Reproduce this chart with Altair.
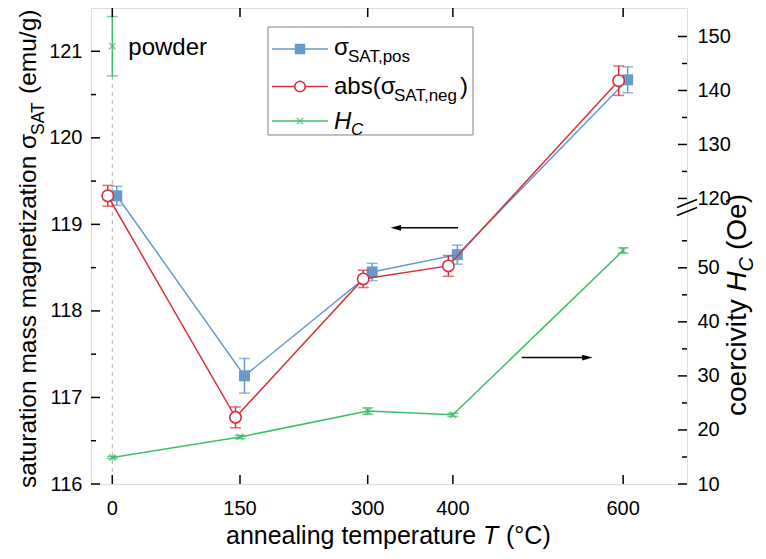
import altair as alt
import pandas as pd

# ---------------- data ----------------
T = [0, 150, 300, 400, 600]
sig_pos = [119.33, 117.25, 118.45, 118.65, 120.67]
sig_pos_err = [0.11, 0.20, 0.10, 0.11, 0.15]
sig_neg = [119.33, 116.77, 118.37, 118.52, 120.66]
sig_neg_err = [0.12, 0.12, 0.10, 0.12, 0.17]
hc = [14.9, 18.7, 23.5, 22.8, 53.2]
hc_err = [0.2, 0.3, 0.6, 0.3, 0.5]
powder_T = [0]
powder_hc = [148.2]
powder_err = [5.5]

x_ticks = [0, 150, 300, 400, 600]
left_major = [116, 117, 118, 119, 120, 121]
left_minor = [116.5, 117.5, 118.5, 119.5, 120.5]
right_major = [10, 20, 30, 40, 50, 120, 130, 140, 150]
right_minor = [15, 25, 35, 45, 55, 125, 135, 145]

BLUE = "#6699CC"
RED = "#D7303A"
GREEN = "#3DBE6B"
FONT = "Liberation Sans"

W, H = 596, 476

xs = alt.Scale(domain=[-25, 675], nice=False, zero=False)
ls = alt.Scale(domain=[116, 121.5], nice=False, zero=False)
rs = alt.Scale(domain=[10, 60, 118.5, 155.28],
               range=[H, 0.4323 * H, 0.4171 * H, 0], nice=False, zero=False)

df = pd.DataFrame({
    "T": T,
    "pos": sig_pos, "pos_lo": [v - e for v, e in zip(sig_pos, sig_pos_err)],
    "pos_hi": [v + e for v, e in zip(sig_pos, sig_pos_err)],
    "neg": sig_neg, "neg_lo": [v - e for v, e in zip(sig_neg, sig_neg_err)],
    "neg_hi": [v + e for v, e in zip(sig_neg, sig_neg_err)],
    "hc": hc, "hc_lo": [v - e for v, e in zip(hc, hc_err)],
    "hc_hi": [v + e for v, e in zip(hc, hc_err)],
})
pdf = pd.DataFrame({
    "T": powder_T, "hc": powder_hc,
    "hc_lo": [v - e for v, e in zip(powder_hc, powder_err)],
    "hc_hi": [v + e for v, e in zip(powder_hc, powder_err)],
    "label": ["powder"],
})

X = lambda f="T": alt.X(f"{f}:Q", scale=xs, axis=None)
YL = lambda f: alt.Y(f"{f}:Q", scale=ls, axis=None)
YR = lambda f: alt.Y(f"{f}:Q", scale=rs, axis=None)

XPATH = "M-1,-1L1,1M-1,1L1,-1"

layers = []

# dashed guide line at T = 0 (from bottom to powder error bar)
layers.append(alt.Chart(pdf).mark_rule(color="#AAAAAA", strokeDash=[4, 4], strokeWidth=1).encode(
    x=X(), y=alt.Y("hc_lo:Q", scale=rs, axis=None), y2=alt.datum(10)))


def errbars(data, lo, hi, scale, color, off):
    yenc = lambda f: alt.Y(f"{f}:Q", scale=scale, axis=None)
    return [
        alt.Chart(data).mark_rule(color=color, strokeWidth=1.5).encode(
            x=X(), y=yenc(lo), y2=alt.Y2(f"{hi}:Q"), xOffset=alt.value(off)),
        alt.Chart(data).mark_tick(color=color, orient="horizontal", size=11, thickness=1.5).encode(
            x=X(), y=yenc(lo), xOffset=alt.value(off)),
        alt.Chart(data).mark_tick(color=color, orient="horizontal", size=11, thickness=1.5).encode(
            x=X(), y=yenc(hi), xOffset=alt.value(off)),
    ]


# ---- HC (green) ----
layers += errbars(pdf, "hc_lo", "hc_hi", rs, GREEN, 0)
layers += errbars(df, "hc_lo", "hc_hi", rs, GREEN, 0)
layers.append(alt.Chart(df).mark_line(color=GREEN, strokeWidth=1.5).encode(
    x=X(),
    y=alt.Y("hc:Q", scale=rs, axis=alt.Axis(
        orient="right", values=right_major, ticks=False, tickSize=0, domain=False, grid=False,
        labelFontSize=20, labelFont=FONT, labelColor="black", labelPadding=10, title=None))))
layers.append(alt.Chart(df).mark_point(shape=XPATH, color=GREEN, filled=False, size=40, strokeWidth=1.5).encode(
    x=X(), y=YR("hc")))
layers.append(alt.Chart(pdf).mark_point(shape=XPATH, color=GREEN, filled=False, size=40, strokeWidth=1.5).encode(
    x=X(), y=YR("hc")))
layers.append(alt.Chart(pdf).mark_text(align="left", baseline="middle", dx=16, dy=2, fontSize=24,
                                       font=FONT, color="black").encode(
    x=X(), y=YR("hc"), text="label:N"))

# ---- sigma pos (blue) ----
layers += errbars(df, "pos_lo", "pos_hi", ls, BLUE, 4.5)
layers.append(alt.Chart(df).mark_line(color=BLUE, strokeWidth=1.5).encode(
    x=X(),
    y=alt.Y("pos:Q", scale=ls, axis=alt.Axis(
        orient="left", values=left_major, ticks=False, tickSize=0, domain=False, grid=False,
        labelFontSize=20, labelFont=FONT, labelColor="black", labelPadding=9, title=None, format="d")),
    xOffset=alt.value(4.5)))
layers.append(alt.Chart(df).mark_point(shape="square", filled=True, color=BLUE, size=120, opacity=1).encode(
    x=X(), y=YL("pos"), xOffset=alt.value(4.5)))

# ---- sigma neg (red) ----
layers += errbars(df, "neg_lo", "neg_hi", ls, RED, -4.5)
layers.append(alt.Chart(df).mark_line(color=RED, strokeWidth=1.5).encode(
    x=X(), y=YL("neg"), xOffset=alt.value(-4.5)))
layers.append(alt.Chart(df).mark_point(shape="circle", filled=True, fill="white", stroke=RED,
                                       strokeWidth=1.6, size=130, opacity=1).encode(
    x=X(), y=YL("neg"), xOffset=alt.value(-4.5)))


# ---- ticks (inward) and x tick labels ----
def vdf(vals):
    return pd.DataFrame({"v": vals})


for vals, ln in [(left_major, 9), (left_minor, 5)]:
    layers.append(alt.Chart(vdf(vals)).mark_rule(color="black", strokeWidth=1.5).encode(
        y=alt.Y("v:Q", scale=ls, axis=None), x=alt.value(0), x2=alt.value(ln)))
for vals, ln in [(right_major, 9), (right_minor, 5)]:
    layers.append(alt.Chart(vdf(vals)).mark_rule(color="black", strokeWidth=1.5).encode(
        y=alt.Y("v:Q", scale=rs, axis=None), x=alt.value(W - ln), x2=alt.value(W)))
layers.append(alt.Chart(vdf(x_ticks)).mark_rule(color="black", strokeWidth=1.5).encode(
    x=alt.X("v:Q", scale=xs, axis=None), y=alt.value(H - 9), y2=alt.value(H)))
layers.append(alt.Chart(vdf(x_ticks)).mark_rule(color="black", strokeWidth=1.5).encode(
    x=alt.X("v:Q", scale=xs, axis=None), y=alt.value(0), y2=alt.value(9)))
layers.append(alt.Chart(vdf(x_ticks)).mark_text(
    align="center", baseline="top", fontSize=20, font=FONT, color="black").encode(
    x=alt.X("v:Q", scale=xs, axis=None), y=alt.value(H + 15), text=alt.Text("v:Q", format="d")))

# axis break marks on the right axis
one = pd.DataFrame({"a": [0]})
for yb in [195.5, 203.5]:
    layers.append(alt.Chart(one).mark_rule(color="black", strokeWidth=1.5).encode(
        x=alt.value(W - 10), x2=alt.value(W + 10), y=alt.value(yb + 4), y2=alt.value(yb - 4)))

# ---- arrows ----
arrL = pd.DataFrame({"x1": [333], "x2": [406], "y": [118.96]})
arrR = pd.DataFrame({"x1": [481], "x2": [558], "y": [33.4]})
layers.append(alt.Chart(arrL).mark_rule(color="black", strokeWidth=1.5).encode(
    x=alt.X("x1:Q", scale=xs, axis=None), x2="x2:Q", y=YL("y")))
layers.append(alt.Chart(arrL).mark_point(shape="M-1,0L1,-0.55L1,0.55Z", filled=True, color="black",
                                         size=110, opacity=1).encode(
    x=alt.X("x1:Q", scale=xs, axis=None), y=YL("y")))
layers.append(alt.Chart(arrR).mark_rule(color="black", strokeWidth=1.5).encode(
    x=alt.X("x1:Q", scale=xs, axis=None), x2="x2:Q", y=YR("y")))
layers.append(alt.Chart(arrR).mark_point(shape="M1,0L-1,-0.55L-1,0.55Z", filled=True, color="black",
                                         size=110, opacity=1).encode(
    x=alt.X("x2:Q", scale=xs, axis=None), y=YR("y")))

# ---- legend ----
layers.append(alt.Chart(one).mark_rect(fill="white", stroke="#808080", strokeWidth=1).encode(
    x=alt.value(177), x2=alt.value(382), y=alt.value(19), y2=alt.value(127)))
leg_y = [41, 78.5, 113]
leg_col = [BLUE, RED, GREEN]
for yy, cc in zip(leg_y, leg_col):
    layers.append(alt.Chart(one).mark_rule(color=cc, strokeWidth=1.5).encode(
        x=alt.value(181), x2=alt.value(237), y=alt.value(yy)))
layers.append(alt.Chart(one).mark_point(shape="square", filled=True, color=BLUE, size=110, opacity=1).encode(
    x=alt.value(209), y=alt.value(leg_y[0])))
layers.append(alt.Chart(one).mark_point(shape="circle", filled=True, fill="white", stroke=RED, strokeWidth=1.6,
                                        size=110, opacity=1).encode(
    x=alt.value(209), y=alt.value(leg_y[1])))
layers.append(alt.Chart(one).mark_point(shape=XPATH, filled=False, color=GREEN, size=40, strokeWidth=1.5).encode(
    x=alt.value(209), y=alt.value(leg_y[2])))


def txt(s, x, y, size, angle=0, italic=False, align="left"):
    return alt.Chart(pd.DataFrame({"t": [s]})).mark_text(
        align=align, baseline="alphabetic", fontSize=size, font=FONT, color="black",
        angle=angle, fontStyle="italic" if italic else "normal").encode(
        x=alt.value(x), y=alt.value(y), text="t:N")


layers += [
    txt("σ", 243, leg_y[0] + 6, 24),
    txt("SAT,pos", 257, leg_y[0] + 13, 17),
    txt("abs(σ", 243, leg_y[1] + 7, 24),
    txt("SAT,neg", 303, leg_y[1] + 14, 17),
    txt(")", 369, leg_y[1] + 7, 24),
    txt("H", 243, leg_y[2] + 7.5, 24, italic=True),
    txt("C", 260, leg_y[2] + 14, 17, italic=True),
]

# ---- axis titles ----
xb = H + 60
layers += [
    txt("annealing temperature", 135, xb, 25),
    txt("T", 392, xb, 25, italic=True),
    txt("(°C)", 415, xb, 25),
]
# left title (rotated)
lx, lsx = -55, -47
l0 = 480
layers += [
    txt("saturation mass magnetization σ", lx, l0, 24.5, angle=270),
    txt("SAT", lsx, l0 - 353, 17.5, angle=270),
    txt("(emu/g)", lx, l0 - 394, 24.5, angle=270),
]
# right title (rotated)
rx, rsx = W + 59, W + 66
r0 = 408
layers += [
    txt("coercivity", rx, r0, 28, angle=270),
    txt("H", rx, r0 - 124.5, 28, angle=270, italic=True),
    txt("C", rsx, r0 - 144.5, 20, angle=270, italic=True),
    txt("(Oe)", rx, r0 - 166, 28, angle=270),
]

chart = alt.layer(*layers).resolve_scale(y="independent").properties(
    width=W, height=H,
    padding={"left": 83, "top": 0, "right": 71, "bottom": 67},
    autosize=alt.AutoSizeParams(type="none"),
).configure_view(stroke="black", strokeWidth=1.5).configure(background="white")

chart.save("out.html", embed_options={"renderer": "svg", "actions": False})
